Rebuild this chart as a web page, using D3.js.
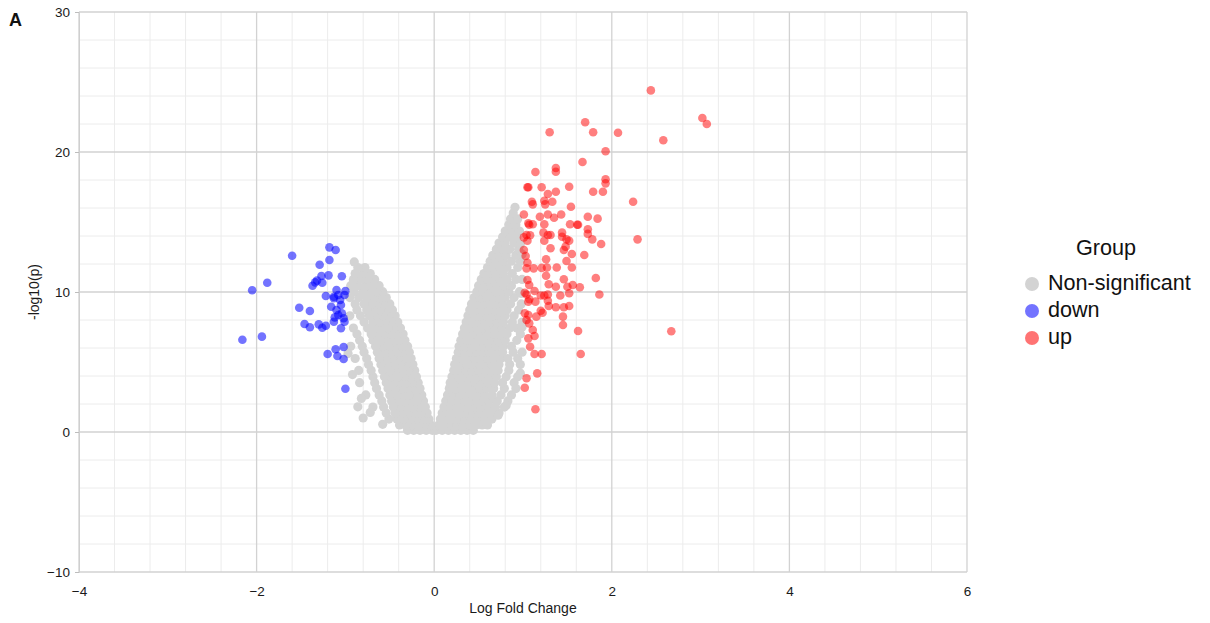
<!DOCTYPE html>
<html><head><meta charset="utf-8">
<script src="https://cdn.jsdelivr.net/npm/d3@7"></script>
<style>
html,body{margin:0;padding:0;background:#fff;}
svg{display:block;font-family:"Liberation Sans",Arial,Helvetica,sans-serif;}
</style></head><body>
<svg id="chart" width="1210" height="623"></svg>
<script>
// Axis ticks
const xTicks = [-4, -2, 0, 2, 4, 6];
const yTicks = [-10, 0, 10, 20, 30];

// Legend groups
const groups = ["Non-significant", "down", "up"];

// Up-regulated genes: [logFC, -log10(p)]
const upPoints = [
  [2.44,24.4],[3.02,22.43],[3.07,22.0],[1.70,22.12],[1.30,21.41],[1.79,21.41],[2.07,21.38],[2.58,20.84],
  [1.93,20.05],[1.67,19.29],[1.37,18.86],[1.37,18.59],[1.14,18.57],[1.93,18.05],[1.93,17.76],[1.05,17.48],
  [1.06,17.48],[1.21,17.48],[1.52,17.52],[1.37,17.16],[1.79,17.16],[1.90,17.16],[1.28,17.0],[2.24,16.45],
  [1.10,16.45],[1.11,16.26],[1.24,16.52],[1.33,16.45],[1.25,16.26],[1.54,16.09],[1.01,15.54],[1.19,15.38],
  [1.28,15.54],[1.35,15.3],[1.43,15.54],[1.73,15.38],[1.84,15.24],[1.06,14.91],[1.11,14.84],[1.07,14.8],
  [1.24,14.84],[1.53,14.84],[1.61,14.8],[1.62,14.8],[1.73,14.48],[1.73,14.15],[1.78,13.76],[1.88,13.43],
  [1.04,14.07],[1.01,13.9],[1.08,14.05],[1.05,13.66],[1.23,14.24],[1.28,14.07],[1.31,14.07],[1.24,13.66],
  [1.44,14.24],[1.44,13.95],[1.49,13.76],[1.52,13.66],[1.48,13.24],[1.46,13.0],[1.31,13.12],[1.55,12.71],
  [1.69,12.64],[2.29,13.76],[1.01,13.0],[1.03,12.57],[1.05,12.09],[1.04,11.69],[1.26,12.34],[1.49,12.21],
  [1.38,11.75],[1.27,11.75],[1.21,11.72],[1.55,11.75],[1.12,11.69],[1.82,11.0],[1.26,11.16],[1.46,10.91],
  [1.56,10.5],[1.64,10.34],[1.50,10.38],[1.37,10.38],[1.29,10.55],[1.05,10.86],[1.07,10.5],[1.13,10.07],
  [1.20,9.75],[1.24,9.75],[1.28,9.82],[1.42,9.75],[1.52,9.91],[1.86,9.82],[1.02,9.95],[1.07,9.48],
  [1.06,9.31],[1.04,9.82],[1.14,9.31],[1.28,9.38],[1.29,9.0],[1.37,8.91],[1.46,8.91],[1.52,9.0],
  [1.45,8.24],[1.45,7.64],[1.02,8.48],[1.06,8.36],[1.04,8.0],[1.07,7.76],[1.15,8.24],[1.20,8.66],
  [1.22,8.52],[1.11,7.29],[1.13,6.86],[1.62,7.21],[2.67,7.2],[1.06,6.69],[1.08,6.09],[1.13,5.57],
  [1.21,5.57],[1.65,5.57],[1.16,4.19],[1.04,3.84],[1.02,3.16],[1.14,1.62]
];

// Down-regulated genes: [logFC, -log10(p)]
const downPoints = [
  [-1.18,13.19],[-1.11,13.0],[-1.60,12.59],[-1.29,11.95],[-1.18,12.29],[-1.88,10.66],[-2.05,10.12],[-1.27,11.14],
  [-1.19,11.19],[-1.04,11.12],[-1.32,10.81],[-1.34,10.69],[-1.37,10.45],[-1.26,10.66],[-1.22,9.71],[-1.10,10.14],
  [-1.13,9.66],[-1.08,9.79],[-1.01,9.79],[-1.00,10.07],[-1.06,9.43],[-1.13,9.55],[-1.16,8.95],[-1.10,8.71],
  [-1.05,9.07],[-1.04,8.48],[-1.08,8.36],[-1.02,8.12],[-1.01,7.88],[-1.12,8.19],[-1.52,8.88],[-1.40,8.64],
  [-1.46,7.71],[-1.40,7.48],[-1.30,7.69],[-1.26,7.45],[-1.22,7.59],[-1.13,7.88],[-1.05,7.41],[-2.16,6.59],
  [-1.94,6.81],[-1.11,5.91],[-1.02,6.07],[-1.20,5.57],[-1.09,5.43],[-1.02,5.21],[-1.00,3.09]
];

// Non-significant genes, grouped by -log10(p) level: [y, [logFC values]]
const nsRows = [
  [0.12,[0.02,0.09,0.16,0.23,0.3,0.37,0.44]],
  [0.5,[0.05,0.12,0.19,0.26,0.33,0.4,0.47,0.54]],
  [0.92,[0.07,0.14,0.21,0.28,0.35,0.42,0.49,0.57,0.65]],
  [1.35,[0.09,0.16,0.23,0.3,0.37,0.44,0.51,0.59,0.67,0.73]],
  [1.78,[0.11,0.18,0.25,0.32,0.39,0.46,0.53,0.61,0.69,0.79]],
  [2.22,[0.13,0.2,0.27,0.34,0.41,0.48,0.55,0.62,0.71,0.83]],
  [2.65,[0.15,0.22,0.29,0.36,0.43,0.5,0.57,0.65,0.75,0.87]],
  [3.1,[0.17,0.24,0.31,0.38,0.45,0.52,0.59,0.67,0.79]],
  [3.52,[0.18,0.25,0.32,0.39,0.46,0.53,0.6,0.68,0.77,0.9]],
  [3.95,[0.2,0.27,0.34,0.41,0.48,0.55,0.62,0.7,0.81,0.94]],
  [4.4,[0.22,0.29,0.36,0.43,0.5,0.57,0.64,0.72,0.84]],
  [4.82,[0.23,0.3,0.37,0.44,0.51,0.58,0.65,0.73,0.85,0.97]],
  [5.25,[0.25,0.32,0.39,0.46,0.53,0.6,0.67,0.75,0.83,0.94]],
  [5.7,[0.27,0.34,0.41,0.48,0.55,0.62,0.69,0.77,0.89,0.99]],
  [6.12,[0.28,0.35,0.42,0.49,0.56,0.63,0.7,0.78,0.87]],
  [6.55,[0.3,0.37,0.44,0.51,0.58,0.65,0.72,0.8,0.93]],
  [7.0,[0.32,0.39,0.46,0.53,0.6,0.67,0.74,0.82,0.97]],
  [7.42,[0.34,0.41,0.48,0.55,0.62,0.69,0.76,0.85,0.93]],
  [7.85,[0.36,0.43,0.5,0.57,0.64,0.71,0.78,0.88,0.99]],
  [8.3,[0.38,0.45,0.52,0.59,0.66,0.73,0.8,0.9]],
  [8.72,[0.4,0.47,0.54,0.61,0.68,0.75,0.82,0.95]],
  [9.15,[0.42,0.49,0.56,0.63,0.7,0.77,0.86,0.98]],
  [9.6,[0.45,0.52,0.59,0.66,0.73,0.8,0.9]],
  [10.02,[0.48,0.55,0.62,0.69,0.76,0.84,0.96]],
  [10.45,[0.5,0.57,0.64,0.71,0.78,0.87]],
  [10.9,[0.53,0.6,0.67,0.74,0.82,0.92,0.99]],
  [11.32,[0.56,0.63,0.7,0.78,0.88]],
  [11.75,[0.6,0.67,0.74,0.82,0.94]],
  [12.2,[0.63,0.7,0.78,0.87,0.97]],
  [12.62,[0.66,0.73,0.81,0.92]],
  [13.05,[0.7,0.77,0.85,0.95]],
  [13.5,[0.73,0.8,0.9]],
  [13.92,[0.77,0.85,0.93]],
  [14.35,[0.8,0.88,0.96]],
  [14.8,[0.84,0.92]],
  [15.22,[0.86,0.94]],
  [15.65,[0.89]],
  [16.05,[0.91]],
  [0.12,[-0.02,-0.09,-0.16,-0.23,-0.3]],
  [0.5,[-0.04,-0.11,-0.18,-0.25,-0.32,-0.39]],
  [0.92,[-0.06,-0.13,-0.2,-0.27,-0.34,-0.42,-0.51]],
  [1.35,[-0.08,-0.15,-0.22,-0.29,-0.36,-0.44,-0.54]],
  [1.78,[-0.1,-0.17,-0.24,-0.31,-0.38,-0.46,-0.57,-0.69]],
  [2.22,[-0.12,-0.19,-0.26,-0.33,-0.4,-0.48,-0.59]],
  [2.65,[-0.14,-0.21,-0.28,-0.35,-0.42,-0.5,-0.62,-0.77]],
  [3.1,[-0.16,-0.23,-0.3,-0.37,-0.44,-0.52,-0.65]],
  [3.52,[-0.18,-0.25,-0.32,-0.39,-0.46,-0.54,-0.67,-0.84]],
  [3.95,[-0.2,-0.27,-0.34,-0.41,-0.48,-0.56,-0.69]],
  [4.4,[-0.22,-0.29,-0.36,-0.43,-0.5,-0.58,-0.71,-0.85]],
  [4.82,[-0.24,-0.31,-0.38,-0.45,-0.52,-0.6,-0.74]],
  [5.25,[-0.26,-0.33,-0.4,-0.47,-0.54,-0.62,-0.76,-0.89]],
  [5.7,[-0.28,-0.35,-0.42,-0.49,-0.56,-0.64,-0.79]],
  [6.12,[-0.3,-0.37,-0.44,-0.51,-0.58,-0.66,-0.81,-0.94]],
  [6.55,[-0.33,-0.4,-0.47,-0.54,-0.61,-0.69,-0.84]],
  [7.0,[-0.35,-0.42,-0.49,-0.56,-0.63,-0.71,-0.87]],
  [7.42,[-0.38,-0.45,-0.52,-0.59,-0.66,-0.75,-0.91]],
  [7.85,[-0.41,-0.48,-0.55,-0.62,-0.69,-0.79]],
  [8.3,[-0.44,-0.51,-0.58,-0.65,-0.73,-0.83,-0.95]],
  [8.72,[-0.47,-0.54,-0.61,-0.68,-0.76,-0.87]],
  [9.15,[-0.5,-0.57,-0.64,-0.71,-0.79,-0.89]],
  [9.6,[-0.54,-0.61,-0.68,-0.76,-0.85,-0.95]],
  [10.02,[-0.58,-0.65,-0.72,-0.8,-0.9]],
  [10.45,[-0.62,-0.69,-0.77,-0.86,-0.94]],
  [10.9,[-0.67,-0.75,-0.83,-0.91]],
  [11.32,[-0.72,-0.8,-0.89]],
  [11.75,[-0.78,-0.86]],
  [12.15,[-0.9]]
];

// Scattered non-significant genes at the fringes of the cloud
const nsExtra = [
  [-0.86,1.8],[-0.82,2.4],[-0.72,1.4],[-0.58,0.55],[-0.92,4.1],[-0.97,5.6],[-0.8,1.0],
  [0.97,4.2],[0.92,3.1],[0.81,1.9],[0.72,1.2],[0.6,0.5],[0.99,7.5],[0.98,9.9],[0.99,12.7],[0.97,13.4]
];

const svg = d3.select("#chart");
const x = d3.scaleLinear().domain([-4, 6]).range([79, 967]);
const y = d3.scaleLinear().domain([-10, 30]).range([572, 12]);
const color = d3.scaleOrdinal().domain(groups).range(["#d3d3d3", "blue", "red"]);
const opacity = d3.scaleOrdinal().domain(groups).range([1, 0.55, 0.5]);

// Grid: minor lines first, then major lines
const xMinor = d3.range(-4, 6.001, 0.4).filter(v => Math.abs(v / 2 - Math.round(v / 2)) > 1e-6);
const yMinor = d3.range(-10, 30.001, 2).filter(v => v % 10 !== 0);
const grid = svg.append("g");
grid.selectAll(".vx").data(xMinor).join("line")
  .attr("x1", d => x(d)).attr("x2", d => x(d)).attr("y1", y(30)).attr("y2", y(-10))
  .attr("stroke", "#ececec").attr("stroke-width", 1);
grid.selectAll(".hy").data(yMinor).join("line")
  .attr("x1", x(-4)).attr("x2", x(6)).attr("y1", d => y(d)).attr("y2", d => y(d))
  .attr("stroke", "#ececec").attr("stroke-width", 1);
grid.selectAll(".vX").data(xTicks).join("line")
  .attr("x1", d => x(d)).attr("x2", d => x(d)).attr("y1", y(30)).attr("y2", y(-10))
  .attr("stroke", "#d2d2d2").attr("stroke-width", 1.3);
grid.selectAll(".hY").data(yTicks).join("line")
  .attr("x1", x(-4)).attr("x2", x(6)).attr("y1", d => y(d)).attr("y2", d => y(d))
  .attr("stroke", "#d2d2d2").attr("stroke-width", 1.3);

// Axes
const yAxis = svg.append("g").attr("transform", `translate(${x(-4)},0)`)
  .call(d3.axisLeft(y).tickValues(yTicks).tickSize(4).tickPadding(5).tickFormat(d3.format("d")));
yAxis.select(".domain").attr("stroke", "#cfcfcf");
yAxis.selectAll(".tick line").attr("stroke", "#bdbdbd");
yAxis.selectAll("text").attr("font-size", 13.5).attr("fill", "#1a1a1a")
  .attr("font-family", "Liberation Sans, Arial, sans-serif");

const xAxis = svg.append("g").attr("transform", `translate(0,${y(-10)})`)
  .call(d3.axisBottom(x).tickValues(xTicks).tickSize(0).tickPadding(14).tickFormat(d3.format("d")));
xAxis.select(".domain").remove();
xAxis.selectAll("text").attr("font-size", 13.5).attr("fill", "#1a1a1a")
  .attr("font-family", "Liberation Sans, Arial, sans-serif");

// Axis titles and panel letter
svg.append("text").attr("x", (x(-4) + x(6)) / 2).attr("y", 612.5)
  .attr("text-anchor", "middle").attr("font-size", 14).attr("fill", "#1a1a1a").text("Log Fold Change");
svg.append("text").attr("transform", `translate(39,${(y(30) + y(-10)) / 2}) rotate(-90)`)
  .attr("text-anchor", "middle").attr("font-size", 14).attr("fill", "#1a1a1a").text("-log10(p)");
svg.append("text").attr("x", 9).attr("y", 26).attr("font-size", 18).attr("font-weight", "bold")
  .attr("fill", "#111").text("A");

// Points
const nsPoints = nsRows.flatMap(([yy, xs]) => xs.map(xx => [xx, yy])).concat(nsExtra);
const layers = [["Non-significant", nsPoints, 4.6], ["down", downPoints, 4.3], ["up", upPoints, 4.3]];
layers.forEach(([g, pts, r]) => {
  svg.append("g").selectAll("circle").data(pts).join("circle")
    .attr("cx", d => x(d[0])).attr("cy", d => y(d[1])).attr("r", r)
    .attr("fill", color(g)).attr("fill-opacity", opacity(g));
});

// Legend
const legend = svg.append("g");
legend.append("text").attr("x", 1076).attr("y", 255).attr("font-size", 21.6).attr("fill", "#111").text("Group");
groups.forEach((g, i) => {
  const cy = 284 + i * 27;
  legend.append("circle").attr("cx", 1032).attr("cy", cy).attr("r", 7)
    .attr("fill", color(g)).attr("fill-opacity", i === 0 ? 1 : 0.55);
  legend.append("text").attr("x", 1048).attr("y", cy + 6).attr("font-size", 21.6).attr("fill", "#111").text(g);
});
</script>
</body></html>
